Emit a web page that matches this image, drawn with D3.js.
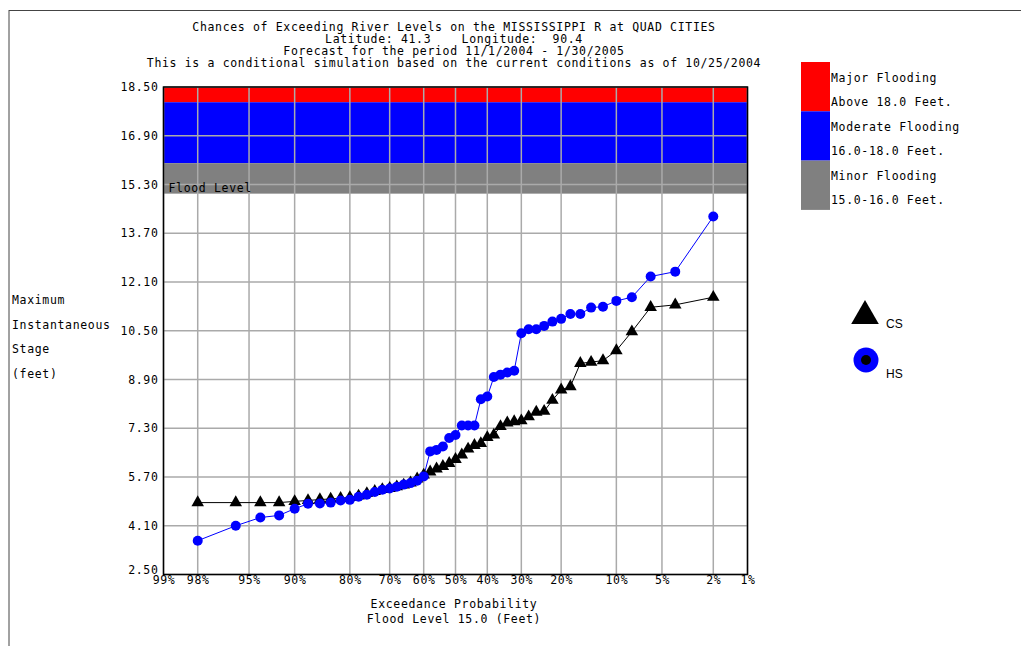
<!DOCTYPE html>
<html>
<head>
<meta charset="utf-8">
<script src="https://cdn.jsdelivr.net/npm/d3@7/dist/d3.min.js"></script>
<style>
body { margin: 0; background: #fff; }
svg text { font-family: "DejaVu Sans Mono", monospace; font-size: 11.5px; letter-spacing: 0.66px; fill: #000; white-space: pre; }
svg text.sans { font-family: "Liberation Sans", Arial, sans-serif; font-size: 12px; letter-spacing: 0; }
</style>
</head>
<body>
<div id="chart"></div>
<script>
// exceedance probability (%) of each trace, plotting positions
const probs = [98, 96, 94, 92, 90, 88, 86, 84, 82, 80, 78, 76, 74, 72, 70, 68, 66, 64, 62, 60,
               58, 56, 54, 52, 50, 48, 46, 44, 42, 40, 38, 36, 34, 32, 30, 28, 26, 24, 22, 20,
               18, 16, 14, 12, 10, 8, 6, 4, 2];

// conditional simulation (CS) stages, feet
const csStage = [4.86, 4.86, 4.86, 4.86, 4.90, 4.93, 4.96, 4.98, 5.00, 5.03,
                 5.08, 5.16, 5.23, 5.29, 5.33, 5.38, 5.44, 5.51, 5.64, 5.77,
                 5.87, 5.97, 6.05, 6.15, 6.28, 6.43, 6.62, 6.74, 6.80, 7.00,
                 7.08, 7.36, 7.48, 7.52, 7.55, 7.68, 7.83, 7.86, 8.22, 8.56,
                 8.67, 9.43, 9.47, 9.52, 9.85, 10.47, 11.27, 11.35, 11.60];

// historical simulation (HS) stages, feet
const hsStage = [3.61, 4.10, 4.37, 4.44, 4.66, 4.82, 4.83, 4.86, 4.93, 4.95,
                 5.05, 5.12, 5.21, 5.28, 5.32, 5.38, 5.45, 5.50, 5.58, 5.72,
                 6.54, 6.59, 6.70, 6.98, 7.08, 7.39, 7.39, 7.39, 8.25, 8.34,
                 8.98, 9.06, 9.13, 9.19, 10.42, 10.55, 10.55, 10.66, 10.80, 10.89,
                 11.05, 11.05, 11.26, 11.29, 11.48, 11.60, 12.28, 12.44, 14.25];

const xTickProbs = [99, 98, 95, 90, 80, 70, 60, 50, 40, 30, 20, 10, 5, 2, 1];
const yTicks = [2.50, 4.10, 5.70, 7.30, 8.90, 10.50, 12.10, 13.70, 15.30, 16.90, 18.50];

const bandLow = [18.0, 16.0, 15.0];
const bandHigh = [18.5, 18.0, 16.0];
const bandNames = ["Major Flooding", "Moderate Flooding", "Minor Flooding"];
const bandRanges = ["Above 18.0 Feet.", "16.0-18.0 Feet.", "15.0-16.0 Feet."];
const bandColors = ["#ff0000", "#0000ff", "#808080"];

const titleLines = [
  "Chances of Exceeding River Levels on the MISSISSIPPI R at QUAD CITIES",
  "Latitude: 41.3    Longitude:  90.4",
  "Forecast for the period 11/1/2004 - 1/30/2005",
  "This is a conditional simulation based on the current conditions as of 10/25/2004"
];
const yTitle = ["Maximum", "Instantaneous", "Stage", "(feet)"];
const xTitle = ["Exceedance Probability", "Flood Level 15.0 (Feet)"];

// inverse normal cdf (Acklam) for the probability axis
function probit(p) {
  const a = [-3.969683028665376e+01, 2.209460984245205e+02, -2.759285104469687e+02, 1.383577518672690e+02, -3.066479806614716e+01, 2.506628277459239e+00];
  const b = [-5.447609879822406e+01, 1.615858368580409e+02, -1.556989798598866e+02, 6.680131188771972e+01, -1.328068155288572e+01];
  const c = [-7.784894002430293e-03, -3.223964580411365e-01, -2.400758277161838e+00, -2.549732539343734e+00, 4.374664141464968e+00, 2.938163982698783e+00];
  const d = [7.784695709041462e-03, 3.224671290700398e-01, 2.445134137142996e+00, 3.754408661907416e+00];
  const pl = 0.02425;
  let q, r;
  if (p < pl) {
    q = Math.sqrt(-2 * Math.log(p));
    return (((((c[0]*q+c[1])*q+c[2])*q+c[3])*q+c[4])*q+c[5]) / ((((d[0]*q+d[1])*q+d[2])*q+d[3])*q+1);
  }
  if (p > 1 - pl) {
    q = Math.sqrt(-2 * Math.log(1 - p));
    return -(((((c[0]*q+c[1])*q+c[2])*q+c[3])*q+c[4])*q+c[5]) / ((((d[0]*q+d[1])*q+d[2])*q+d[3])*q+1);
  }
  q = p - 0.5; r = q * q;
  return (((((a[0]*r+a[1])*r+a[2])*r+a[3])*r+a[4])*r+a[5])*q / (((((b[0]*r+b[1])*r+b[2])*r+b[3])*r+b[4])*r+1);
}
const zOf = pct => probit(1 - pct / 100);

const W = 1021, H = 646;
const plot = {left: 163.5, right: 747.5, top: 87, bottom: 574.5};

const svg = d3.select("#chart").append("svg")
  .attr("width", W).attr("height", H);

// page frame
svg.append("line").attr("x1", 9).attr("x2", 9).attr("y1", 10).attr("y2", H)
  .attr("stroke", "#444").attr("stroke-width", 1);
svg.append("line").attr("x1", 9).attr("x2", W).attr("y1", 10.5).attr("y2", 10.5)
  .attr("stroke", "#444").attr("stroke-width", 1);

const x = d3.scaleLinear().domain([zOf(99), zOf(1)]).range([plot.left, plot.right]);
const y = d3.scaleLinear().domain([2.5, 18.5]).range([plot.bottom, plot.top]);

// flood bands
svg.selectAll("rect.band")
  .data(bandLow)
  .enter().append("rect")
  .attr("class", "band")
  .attr("x", plot.left)
  .attr("width", plot.right - plot.left)
  .attr("y", (d, i) => y(bandHigh[i]))
  .attr("height", (d, i) => y(d) - y(bandHigh[i]))
  .attr("fill", (d, i) => bandColors[i]);

// grid
svg.append("g").selectAll("line")
  .data(xTickProbs)
  .enter().append("line")
  .attr("x1", d => x(zOf(d))).attr("x2", d => x(zOf(d)))
  .attr("y1", plot.top).attr("y2", plot.bottom)
  .attr("stroke", "#aaaaaa").attr("stroke-width", 1.5);

svg.append("g").selectAll("line")
  .data(yTicks)
  .enter().append("line")
  .attr("x1", plot.left).attr("x2", plot.right)
  .attr("y1", d => y(d)).attr("y2", d => y(d))
  .attr("stroke", "#aaaaaa").attr("stroke-width", 1.5);

svg.append("text")
  .attr("x", plot.left + 5)
  .attr("y", y(15.0) - 2)
  .text("Flood Level");

// plot frame
svg.append("rect")
  .attr("x", plot.left).attr("y", plot.top)
  .attr("width", plot.right - plot.left).attr("height", plot.bottom - plot.top)
  .attr("fill", "none").attr("stroke", "#000").attr("stroke-width", 1.5);

// axes
const xAxis = svg.append("g")
  .attr("transform", `translate(0,${plot.bottom})`)
  .call(d3.axisBottom(x)
    .tickValues(xTickProbs.map(zOf))
    .tickFormat((d, i) => xTickProbs[i] + "%")
    .tickSize(0).tickPadding(1));
xAxis.select(".domain").remove();
xAxis.selectAll("text").attr("font-family", null).attr("font-size", null);

const yAxis = svg.append("g")
  .attr("transform", `translate(${plot.left},0)`)
  .call(d3.axisLeft(y)
    .tickValues(yTicks)
    .tickFormat(d3.format(".2f"))
    .tickSize(0).tickPadding(5));
yAxis.select(".domain").remove();
yAxis.selectAll("text").attr("font-family", null).attr("font-size", null);
// lowest label sits a little above the corner, as in the original
yAxis.selectAll(".tick").filter(d => d === yTicks[0]).select("text").attr("dy", "-0.1em");

// series
const line = d3.line()
  .x((d, i) => x(zOf(probs[i])))
  .y(d => y(d));

svg.append("path").datum(csStage)
  .attr("d", line).attr("fill", "none")
  .attr("stroke", "#000").attr("stroke-width", 1);

svg.append("path").datum(hsStage)
  .attr("d", line).attr("fill", "none")
  .attr("stroke", "#0000ff").attr("stroke-width", 1);

svg.append("g").selectAll("path")
  .data(csStage)
  .enter().append("path")
  .attr("d", d3.symbol(d3.symbolTriangle).size(68))
  .attr("transform", (d, i) => `translate(${x(zOf(probs[i]))},${y(d)})`)
  .attr("fill", "#000");

svg.append("g").selectAll("circle")
  .data(hsStage)
  .enter().append("circle")
  .attr("cx", (d, i) => x(zOf(probs[i])))
  .attr("cy", d => y(d))
  .attr("r", 5)
  .attr("fill", "#0000ff");

// titles
svg.append("g").selectAll("text")
  .data(titleLines)
  .enter().append("text")
  .attr("x", 454).attr("y", (d, i) => 31 + i * 12)
  .attr("text-anchor", "middle")
  .text(d => d);

svg.append("g").selectAll("text")
  .data(yTitle)
  .enter().append("text")
  .attr("x", 12).attr("y", (d, i) => 304 + i * 24.7)
  .text(d => d);

svg.append("g").selectAll("text")
  .data(xTitle)
  .enter().append("text")
  .attr("x", 454).attr("y", (d, i) => 608 + i * 15)
  .attr("text-anchor", "middle")
  .text(d => d);

// flood legend
const leg = svg.append("g").attr("transform", "translate(801,62)");
leg.selectAll("rect")
  .data(bandNames)
  .enter().append("rect")
  .attr("x", 0).attr("y", (d, i) => i * 49.3)
  .attr("width", 29).attr("height", 49.3)
  .attr("fill", (d, i) => bandColors[i]);
leg.selectAll("text.name")
  .data(bandNames)
  .enter().append("text")
  .attr("class", "name")
  .attr("x", 30).attr("y", (d, i) => 20 + i * 49)
  .text(d => d);
leg.selectAll("text.range")
  .data(bandRanges)
  .enter().append("text")
  .attr("class", "range")
  .attr("x", 30).attr("y", (d, i) => 44 + i * 49)
  .text(d => d);

// series legend
svg.append("path")
  .attr("d", d3.symbol(d3.symbolTriangle).size(330))
  .attr("transform", "translate(865,316)")
  .attr("fill", "#000");
svg.append("text").attr("class", "sans").attr("x", 886).attr("y", 328).text("CS");

svg.append("circle").attr("cx", 866).attr("cy", 360).attr("r", 12.5).attr("fill", "#0000ff");
svg.append("circle").attr("cx", 866).attr("cy", 360).attr("r", 5).attr("fill", "#000");
svg.append("text").attr("class", "sans").attr("x", 886).attr("y", 378).text("HS");
</script>
</body>
</html>
